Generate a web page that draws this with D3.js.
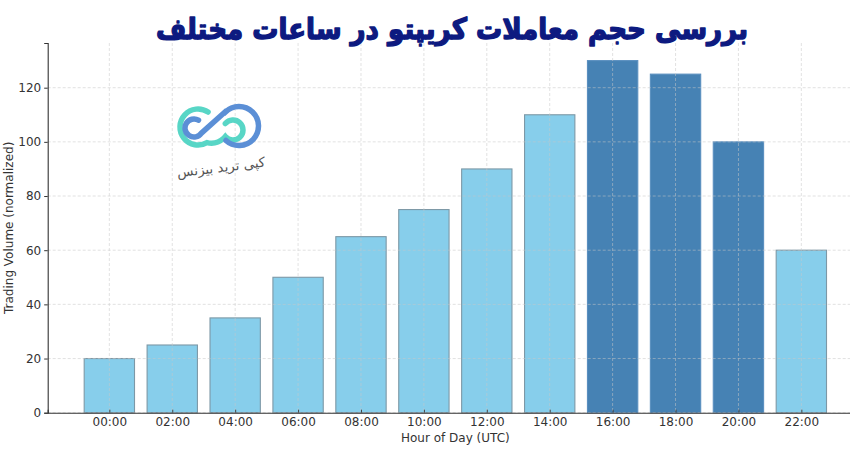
<!DOCTYPE html>
<html><head><meta charset="utf-8">
<script src="https://cdn.jsdelivr.net/npm/d3@7"></script>
<style>body{margin:0;background:#fff;}svg{display:block;}</style>
</head><body>
<svg id="chart" width="850" height="450"></svg>
<script>
const hours = ["00:00","02:00","04:00","06:00","08:00","10:00","12:00","14:00","16:00","18:00","20:00","22:00"];
const volumes = [20,25,35,50,65,75,90,110,130,125,100,60];
const peakHours = ["16:00","18:00","20:00"];
const yTicks = [0,20,40,60,80,100,120];
const titleText = "بررسی حجم معاملات کریپتو در ساعات مختلف";
const brandText = "کپی ترید بیزنس";
const xLabel = "Hour of Day (UTC)";
const yLabel = "Trading Volume (normalized)";

const svg = d3.select("#chart");
const idx = hours.map((d,i)=>i);
const x = d3.scaleLinear().domain([-0.98, 11.98]).range([47.7, 863]);
const y = d3.scaleLinear().domain([0, 136.5]).range([412.7, 43]);
const bw = x(0.4) - x(-0.4);
const font = "DejaVu Sans, sans-serif";

// bars
svg.append("g").selectAll("rect").data(hours).join("rect")
  .attr("x", (d,i)=>x(i) - bw/2)
  .attr("y", (d,i)=>y(volumes[i]))
  .attr("width", bw)
  .attr("height", (d,i)=>y(0)-y(volumes[i]))
  .attr("fill", d=>peakHours.includes(d) ? "#4682B4" : "#87CEEB")
  .attr("stroke", d=>peakHours.includes(d) ? "#5a8fbf" : "#7d98a6")
  .attr("stroke-width", 1.1);

// grid on top
const grid = svg.append("g").attr("stroke", "#c8c8c8").attr("stroke-width", 0.7)
  .attr("stroke-dasharray", "3,2").attr("opacity", 0.75);
grid.selectAll("line.h").data(yTicks).join("line").attr("class","h")
  .attr("x1", x.range()[0]).attr("x2", 850).attr("y1", d=>y(d)).attr("y2", d=>y(d));
grid.selectAll("line.v").data(idx).join("line").attr("class","v")
  .attr("x1", d=>x(d)).attr("x2", d=>x(d)).attr("y1", y.range()[1]).attr("y2", y(0));

// axes
const yAxis = svg.append("g").attr("transform", `translate(${x.range()[0]},0)`)
  .call(d3.axisLeft(y).tickValues(yTicks).tickSize(3.5).tickPadding(3));
yAxis.select(".domain").attr("stroke", "#333").attr("stroke-width", 1.1);
yAxis.selectAll("line").attr("stroke", "#333");
yAxis.selectAll("text").attr("font-family", font).attr("font-size", 12).attr("fill", "#333");

const xAxis = svg.append("g").attr("transform", `translate(0,${y(0)})`)
  .call(d3.axisBottom(x).tickValues(idx).tickFormat(i=>hours[i]).tickSize(-3).tickPadding(5));
xAxis.select(".domain").attr("stroke", "#333").attr("stroke-width", 1.1);
xAxis.selectAll("line").attr("stroke", "#444");
xAxis.selectAll("text").attr("font-family", font).attr("font-size", 12).attr("fill", "#333");

svg.append("text").attr("x", (x.range()[0]+x.range()[1])/2).attr("y", 442)
  .attr("text-anchor","middle").attr("font-family", font).attr("font-size", 12).attr("fill","#333")
  .text(xLabel);
svg.append("text").attr("transform", `translate(13,${(y(0)+y.range()[1])/2}) rotate(-90)`)
  .attr("text-anchor","middle").attr("font-family", font).attr("font-size", 12).attr("fill","#333")
  .text(yLabel);

// title
const title = svg.append("text").attr("x", 452).attr("y", 0)
  .attr("text-anchor","middle").attr("font-family", font).attr("font-weight","bold")
  .attr("font-size", 34).attr("fill", "#0d1a80").attr("stroke", "#0d1a80").attr("stroke-width", 1.3)
  .attr("stroke-linejoin","round").attr("direction","rtl")
  .attr("transform", "translate(0,39) scale(1,1.12)")
  .text(titleText);
const tw = title.node().getComputedTextLength();
title.attr("font-size", 34 * 592 / tw);

// logo
const logo = svg.append("g").attr("fill","none").attr("stroke-linecap","round").attr("stroke-width", 5.5);
const toR = d => d*Math.PI/180;
const teal = d3.path();
teal.arc(198,127,18,toR(-56),toR(-300),true);
teal.quadraticCurveTo(216,145,224,138);
teal.arc(233,130,10,toR(140),toR(-140),true);
logo.append("path").attr("stroke","#58d6c6").attr("d", teal.toString());
const blue = d3.path();
blue.arc(194,128,9,toR(-60),toR(35),true);
blue.lineTo(225,112);
blue.arc(239,126,19.5,toR(-135),toR(132),false);
logo.append("path").attr("stroke","#5b8fd6").attr("d", blue.toString());
svg.append("text").attr("x", 221).attr("y", 172).attr("text-anchor","middle")
  .attr("font-family", font).attr("font-size", 13.5).attr("fill","#555")
  .attr("transform","rotate(-7,221,167)").text(brandText);
</script>
</body></html>
